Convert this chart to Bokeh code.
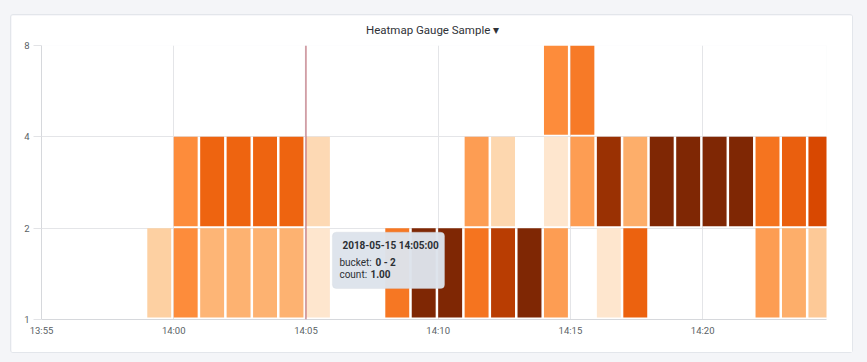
from datetime import datetime
import numpy as np
from bokeh.plotting import figure
from bokeh.models import (ColumnDataSource, LinearColorMapper, FixedTicker,
                          DatetimeTickFormatter, PrintfTickFormatter, Span,
                          BoxAnnotation, Label, Range1d)
from bokeh.transform import transform
from bokeh.embed import file_html
from bokeh.resources import INLINE

# ---------------- data ----------------
day = "2018-05-15"
minutes = ["13:59", "14:00", "14:01", "14:02", "14:03", "14:04", "14:05",
           "14:06", "14:07", "14:08", "14:09", "14:10", "14:11", "14:12",
           "14:13", "14:14", "14:15", "14:16", "14:17", "14:18", "14:19",
           "14:20", "14:21", "14:22", "14:23", "14:24"]
bucket_lo = [1, 2, 4]
bucket_hi = [2, 4, 8]
# counts per bucket (0 = empty)
counts_1_2 = [2, 4, 2.8, 2.9, 2.9, 2.9, 1, 0, 0, 4.6, 8, 8, 4.7, 6.6,
              8, 3.5, 0, 1, 5.2, 0, 0, 0, 0, 3.5, 3, 2.2]
counts_2_4 = [0, 4, 5.15, 5.15, 5.15, 5.15, 1.6, 0, 0, 0, 0, 0, 3.5, 1.7,
              0, 1, 3.5, 7.3, 3, 8, 8, 8, 8, 4.7, 5.3, 6]
counts_4_8 = [0, 0, 0, 0, 0, 0, 0, 0, 0, 0, 0, 0, 0, 0,
              0, 4, 4.5, 0, 0, 0, 0, 0, 0, 0, 0, 0]
x_ticks = ["13:55", "14:00", "14:05", "14:10", "14:15", "14:20"]
y_ticks = [1, 2, 4, 8]
x_start, x_end = "13:55:00", "14:24:41"
marker_time = "14:05"
tooltip_title = "2018-05-15 14:05:00"
tooltip_bucket = "0 - 2"
tooltip_count = "1.00"
title_text = "Heatmap Gauge Sample"

# ---------------- helpers ----------------
EPOCH = datetime(1970, 1, 1)


def ms(hhmm):
    fmt = "%Y-%m-%d %H:%M:%S" if hhmm.count(":") == 2 else "%Y-%m-%d %H:%M"
    return (datetime.strptime(f"{day} {hhmm}", fmt) - EPOCH).total_seconds() * 1000.0


MIN = 60000.0
gap_factor = 2 ** (2.0 / 91.0)

left, right, bottom, top, cnt = [], [], [], [], []
for series, lo, hi in zip([counts_1_2, counts_2_4, counts_4_8], bucket_lo, bucket_hi):
    for m, c in zip(minutes, series):
        if c > 0:
            t = ms(m)
            left.append(t)
            right.append(t + 0.905 * MIN)
            bottom.append(lo * gap_factor)
            top.append(hi)
            cnt.append(c)
src = ColumnDataSource(dict(left=left, right=right, bottom=bottom, top=top, count=cnt))

# Oranges palette light -> dark, interpolated
oranges9 = ['#fff5eb', '#fee6ce', '#fdd0a2', '#fdae6b', '#fd8d3c',
            '#f16913', '#d94801', '#a63603', '#7f2704']


def hex2rgb(h):
    return np.array([int(h[i:i + 2], 16) for i in (1, 3, 5)], dtype=float)


anchors = np.array([hex2rgb(h) for h in oranges9])
pal = []
for v in np.linspace(0, 1, 256):
    pos = v * 8
    i = min(int(pos), 7)
    f = pos - i
    rgb = anchors[i] * (1 - f) + anchors[i + 1] * f
    pal.append("#%02x%02x%02x" % tuple(int(round(x)) for x in rgb))
mapper = LinearColorMapper(palette=pal, low=0, high=8)

# ---------------- figure ----------------
p = figure(width=843, height=339, x_axis_type="datetime", y_axis_type="log",
           x_range=Range1d(ms(x_start), ms(x_end)), y_range=Range1d(1, 8),
           output_backend="svg", toolbar_location=None,
           min_border_left=30, min_border_right=28, min_border_top=30,
           min_border_bottom=35,
           styles={"margin-left": "10px", "margin-top": "14px",
                   "border": "1px solid #e3e6eb", "border-radius": "3px"})
p.title.text = title_text + "  \u25be"
p.title.align = "center"
p.title.vertical_align = "top"
p.title.text_font = "Roboto"
p.title.text_font_size = "11.5px"
p.title.text_font_style = "normal"
p.title.text_color = "#2f3237"
p.title.standoff = 13
p.outline_line_color = None
p.background_fill_color = "white"
p.border_fill_color = "white"

p.quad(left="left", right="right", bottom="bottom", top="top", source=src,
       fill_color=transform("count", mapper), line_color=None)

# axes
p.yaxis.ticker = FixedTicker(ticks=y_ticks, minor_ticks=[])
p.yaxis.formatter = PrintfTickFormatter(format="%d")
p.xaxis.ticker = FixedTicker(ticks=[ms(t) for t in x_ticks], minor_ticks=[])
p.xaxis.formatter = DatetimeTickFormatter(minutes="%H:%M", hours="%H:%M",
                                          minsec="%H:%M", seconds="%H:%M")
for ax in (p.xaxis, p.yaxis):
    ax.axis_line_color = "#d6d8dc"
    ax.major_label_text_font = "Roboto"
    ax.major_label_text_font_size = "9.5px"
    ax.major_label_text_color = "#5a5f66"
    ax.minor_tick_line_color = None
p.yaxis.major_tick_out = 8
p.yaxis.major_tick_in = 0
p.yaxis.major_tick_line_color = "#e2e3e6"
p.yaxis.major_label_standoff = 4
p.xaxis.major_tick_out = 0
p.xaxis.major_tick_in = 0
p.xaxis.major_label_standoff = 5
p.xgrid.grid_line_color = "#e4e5e8"
p.ygrid.grid_line_color = "#e4e5e8"

# time marker
p.add_layout(Span(location=ms(marker_time), dimension="height",
                  line_color="#b85a66", line_alpha=0.5, line_width=2))

# tooltip overlay (anchored next to hovered cell at 14:05, bucket 1-2)
tl = ms(marker_time) + MIN
p.add_layout(BoxAnnotation(left=tl, right=tl + 4.24 * MIN, top=1.94, bottom=1.265,
                           fill_color="#dde3eb", fill_alpha=0.97,
                           line_color="#d0d6de", line_width=1, border_radius=4))
FONT = "Roboto"
p.add_layout(Label(x=tl, y=1.748, x_offset=10, text=tooltip_title,
                   text_font=FONT, text_font_size="10px",
                   text_font_style="bold", text_color="#2c3035",
                   text_baseline="middle"))
p.add_layout(Label(x=tl, y=1.54, x_offset=7, text="bucket:",
                   text_font=FONT, text_font_size="10px",
                   text_color="#2c3035", text_baseline="middle"))
p.add_layout(Label(x=tl, y=1.54, x_offset=43, text=tooltip_bucket,
                   text_font=FONT, text_font_size="10px",
                   text_font_style="bold", text_color="#2c3035",
                   text_baseline="middle"))
p.add_layout(Label(x=tl, y=1.409, x_offset=7, text="count:",
                   text_font=FONT, text_font_size="10px",
                   text_color="#2c3035", text_baseline="middle"))
p.add_layout(Label(x=tl, y=1.409, x_offset=38, text=tooltip_count,
                   text_font=FONT, text_font_size="10px",
                   text_font_style="bold", text_color="#2c3035",
                   text_baseline="middle"))

html = file_html(p, INLINE)
html = html.replace("</head>", "<style>body{background:#f4f5f8;}</style></head>", 1)
open("out.html", "w").write(html)
